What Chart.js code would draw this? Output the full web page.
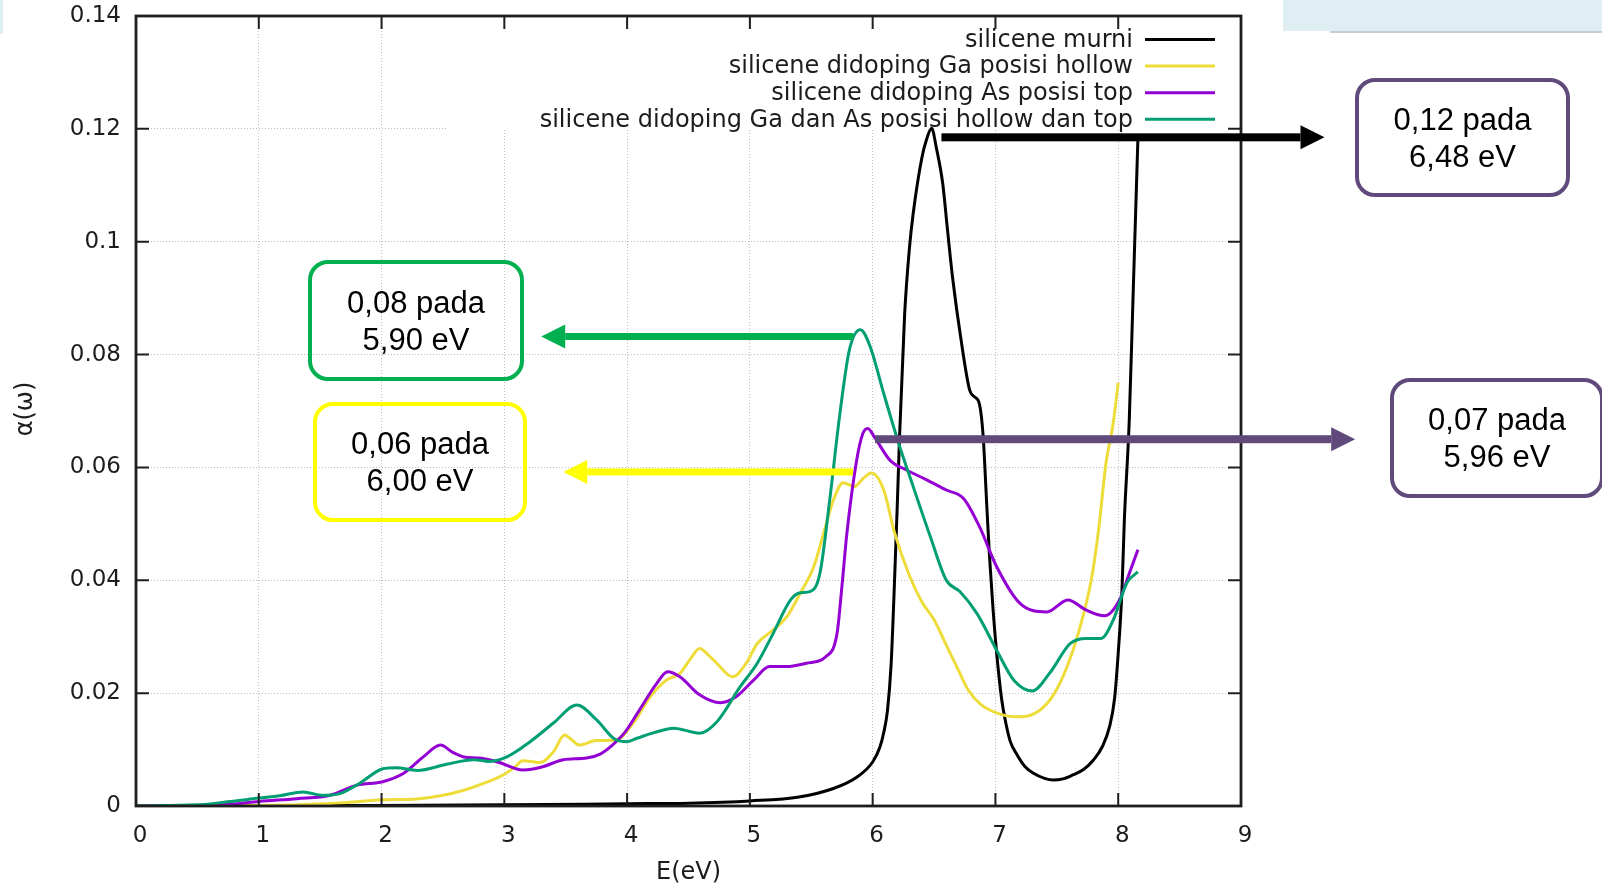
<!DOCTYPE html>
<html lang="id">
<head>
<meta charset="utf-8">
<title>Koefisien absorpsi silicene</title>
<script src="https://cdn.jsdelivr.net/npm/chart.js@4.4.1/dist/chart.umd.min.js"></script>
<style>
  html, body { margin: 0; padding: 0; background: #fff; }
  #wrap { position: relative; width: 1602px; height: 885px; overflow: hidden; }
  #absorpsiChart { position: absolute; left: 0; top: 0; }
  .box {
    position: absolute; box-sizing: border-box; border: 4px solid; border-radius: 20px;
    display: flex; align-items: center; justify-content: center; text-align: center;
    font-family: "Liberation Sans", Arial, sans-serif; font-size: 31px; line-height: 37px; color: #000;
  }
  .strip { position: absolute; background: #deeef3; }
</style>
</head>
<body>
<div id="wrap">
  <canvas id="absorpsiChart" width="1602" height="885"></canvas>
  <div class="strip" style="left:1283px;top:0;width:319px;height:31px"></div>
  <div style="position:absolute;left:1330px;top:31px;width:272px;height:2px;background:#c3ccd0"></div>
  <div class="strip" style="left:0;top:0;width:3px;height:34px"></div>
  <div class="box" style="left:1355px;top:78px;width:215px;height:119px;border-color:#604a7b">0,12 pada<br>6,48 eV</div>
  <div class="box" style="left:308px;top:260px;width:216px;height:121px;border-color:#00b050">0,08 pada<br>5,90 eV</div>
  <div class="box" style="left:313px;top:402px;width:214px;height:120px;border-color:#ffff00">0,06 pada<br>6,00 eV</div>
  <div class="box" style="left:1390px;top:378px;width:214px;height:120px;border-color:#604a7b">0,07 pada<br>5,96 eV</div>
</div>
<script>
// Koefisien absorpsi α(ω) terhadap energi foton E (eV), dibaca dari grafik asli

// silicene murni
const energiMurni = [0, 1, 2, 3, 4, 4.5, 5.0, 5.4, 5.68, 5.87, 6.0, 6.06, 6.09, 6.12, 6.15, 6.18, 6.2, 6.22, 6.26, 6.3,
  6.33, 6.4, 6.44, 6.48, 6.52, 6.57, 6.61, 6.65, 6.72, 6.79, 6.83, 6.87, 6.9, 6.93, 6.95, 6.98, 7.01, 7.05, 7.08, 7.12,
  7.17, 7.24, 7.31, 7.4, 7.47, 7.55, 7.63, 7.72, 7.8, 7.87, 7.93, 7.97, 8.0, 8.03, 8.05, 8.09, 8.12, 8.16]
const alphaMurni = [0, 0.0001, 0.0001, 0.0002, 0.0004, 0.0005, 0.0009, 0.0016, 0.0031, 0.0051, 0.0078, 0.0105, 0.013, 0.0168, 0.025, 0.041, 0.053, 0.066, 0.087, 0.099,
  0.105, 0.1148, 0.1182, 0.1201, 0.1165, 0.1104, 0.102, 0.0938, 0.0826, 0.0737, 0.0725, 0.0712, 0.0655, 0.053, 0.0448, 0.035, 0.0271, 0.019, 0.0152, 0.0115,
  0.0093, 0.007, 0.0058, 0.0049, 0.0046, 0.0048, 0.0055, 0.0065, 0.0082, 0.0105, 0.0141, 0.019, 0.0271, 0.038, 0.0507, 0.0684, 0.0897, 0.118]

// didoping Ga posisi hollow
const energiGa = [0, 0.5, 1.0, 1.31, 1.72, 2.0, 2.26, 2.48, 2.67, 2.83, 2.99, 3.08, 3.15, 3.22, 3.29, 3.4, 3.49, 3.55, 3.61, 3.75,
  3.91, 4.05, 4.19, 4.32, 4.43, 4.52, 4.59, 4.66, 4.73, 4.86, 4.97, 5.06, 5.19, 5.3, 5.41, 5.52, 5.6, 5.68, 5.76, 5.85,
  5.92, 5.99, 6.09, 6.18, 6.3, 6.4, 6.5, 6.6, 6.7, 6.78, 6.88, 7.05, 7.2, 7.35, 7.47, 7.58, 7.68, 7.78, 7.84, 7.9, 7.96, 8.0]
const alphaGa = [0, 0, 0.0001, 0.0002, 0.0006, 0.0011, 0.0012, 0.0018, 0.0028, 0.004, 0.0055, 0.0068, 0.008, 0.0079, 0.0077, 0.0096, 0.0126, 0.0117, 0.0108, 0.0116,
  0.0117, 0.0147, 0.0194, 0.0223, 0.0235, 0.0262, 0.0279, 0.0268, 0.0253, 0.0229, 0.0253, 0.0288, 0.0312, 0.0335, 0.0377, 0.0424, 0.0483, 0.0542, 0.0573, 0.0566,
  0.058, 0.059, 0.056, 0.0483, 0.0408, 0.0362, 0.033, 0.0285, 0.024, 0.0205, 0.018, 0.0162, 0.0158, 0.0168, 0.0196, 0.0245, 0.031, 0.04, 0.0489, 0.0607, 0.068, 0.075]

// didoping As posisi top
const energiAs = [0, 0.5, 0.77, 1.0, 1.31, 1.58, 1.8, 2.01, 2.18, 2.34, 2.48, 2.58, 2.67, 2.8, 2.96, 3.15, 3.22, 3.32, 3.48, 3.67,
  3.78, 3.88, 3.98, 4.1, 4.24, 4.33, 4.43, 4.59, 4.76, 4.89, 5.03, 5.16, 5.3, 5.46, 5.62, 5.71, 5.75, 5.79, 5.87, 5.92,
  5.96, 6.02, 6.14, 6.28, 6.44, 6.6, 6.74, 6.87, 7.01, 7.2, 7.42, 7.59, 7.74, 7.89, 8.01, 8.09, 8.16]
const alphaAs = [0, 0.0001, 0.0003, 0.0008, 0.0013, 0.0019, 0.0037, 0.0043, 0.0058, 0.0087, 0.0108, 0.0095, 0.0087, 0.0085, 0.0077, 0.0064, 0.0065, 0.007, 0.0082, 0.0085,
  0.0092, 0.0108, 0.013, 0.017, 0.0217, 0.0238, 0.0229, 0.0197, 0.0183, 0.0194, 0.0223, 0.0247, 0.0247, 0.0253, 0.0265, 0.0306, 0.039, 0.0483, 0.0613, 0.066,
  0.0669, 0.0652, 0.0613, 0.0595, 0.0578, 0.056, 0.0545, 0.0495, 0.0424, 0.0359, 0.0344, 0.0365, 0.0347, 0.0337, 0.0365, 0.0412, 0.0454]

// didoping Ga dan As posisi hollow dan top
const energiGaAs = [0, 0.49, 0.77, 1.0, 1.17, 1.36, 1.52, 1.66, 1.82, 2.01, 2.12, 2.29, 2.53, 2.75, 2.88, 3.02, 3.21, 3.4, 3.59, 3.75,
  3.91, 4.0, 4.08, 4.22, 4.38, 4.59, 4.73, 4.92, 5.06, 5.19, 5.33, 5.41, 5.49, 5.57, 5.65, 5.73, 5.81, 5.9, 5.98, 6.09,
  6.22, 6.33, 6.47, 6.6, 6.71, 6.85, 7.01, 7.15, 7.3, 7.44, 7.61, 7.74, 7.86, 7.96, 8.07, 8.16]
const alphaGaAs = [0, 0.0002, 0.0008, 0.0014, 0.0018, 0.0025, 0.0019, 0.0022, 0.004, 0.0066, 0.0068, 0.0063, 0.0074, 0.0082, 0.0079, 0.0087, 0.0114, 0.0147, 0.0179, 0.0153,
  0.0117, 0.0114, 0.012, 0.013, 0.0138, 0.0129, 0.0149, 0.0211, 0.0253, 0.0306, 0.0365, 0.0378, 0.038, 0.0412, 0.0542, 0.069, 0.0808, 0.0844, 0.0814, 0.0731,
  0.0637, 0.0566, 0.0477, 0.04, 0.038, 0.0341, 0.0276, 0.0223, 0.0204, 0.0235, 0.0288, 0.0297, 0.0297, 0.033, 0.0395, 0.0415]

const labelSeri = [
  'silicene murni',
  'silicene didoping Ga posisi hollow',
  'silicene didoping As posisi top',
  'silicene didoping Ga dan As posisi hollow dan top'
]
const tickX = ['0', '1', '2', '3', '4', '5', '6', '7', '8', '9']
const tickY = ['0', '0.02', '0.04', '0.06', '0.08', '0.1', '0.12', '0.14']

// panah anotasi dalam satuan sumbu: x awal, x ujung, y
const panahMurni = [6.56, 9.68, 0.1185]
const panahGaAs = [5.84, 3.30, 0.0832]
const panahGa = [5.84, 3.48, 0.0592]
const panahAs = [6.02, 9.93, 0.0650]

const warnaSeri = ['#000000', '#eedc3a', '#9400d3', '#009e73']
const FONT = "'DejaVu Sans', sans-serif"

function titik(xs, ys) {
  return xs.map((x, i) => ({ x: x, y: ys[i] }))
}

function seri(idx, xs, ys) {
  return {
    label: labelSeri[idx],
    data: titik(xs, ys),
    borderColor: warnaSeri[idx],
    borderWidth: 3,
    pointRadius: 0,
    showLine: true,
    fill: false,
    cubicInterpolationMode: 'monotone',
    order: 4 - idx   // seri terakhir digambar paling atas, seperti gnuplot
  }
}

// bingkai, tick ke dalam, legenda, judul sumbu dan panah
const dekorasi = {
  id: 'dekorasi',
  beforeDatasetsDraw(chart) {
    const { ctx, chartArea } = chart
    // kotak legenda menutupi grid
    ctx.save()
    ctx.fillStyle = '#fff'
    ctx.fillRect(448, chartArea.top + 1, chartArea.right - 449, 113)
    ctx.restore()
  },
  afterDatasetsDraw(chart) {
    const { ctx, chartArea: a, scales } = chart
    const sx = scales.x, sy = scales.y
    ctx.save()
    ctx.strokeStyle = '#1e1e1e'
    ctx.lineWidth = 2.8
    ctx.strokeRect(a.left, a.top, a.right - a.left, a.bottom - a.top)
    ctx.lineWidth = 2
    ctx.beginPath()
    sx.ticks.forEach(t => {
      const px = sx.getPixelForValue(t.value)
      ctx.moveTo(px, a.bottom); ctx.lineTo(px, a.bottom - 13)
      ctx.moveTo(px, a.top); ctx.lineTo(px, a.top + 13)
    })
    sy.ticks.forEach(t => {
      const py = sy.getPixelForValue(t.value)
      ctx.moveTo(a.left, py); ctx.lineTo(a.left + 13, py)
      ctx.moveTo(a.right, py); ctx.lineTo(a.right - 13, py)
    })
    ctx.stroke()

    // legenda gaya gnuplot: teks rata kanan, contoh garis di kanan
    ctx.font = '24px ' + FONT
    ctx.textAlign = 'right'
    ctx.textBaseline = 'middle'
    chart.data.datasets.forEach((ds, i) => {
      const y = 40.5 + i * 26.6
      ctx.fillStyle = '#1c1c1c'
      ctx.fillText(ds.label, 1133, y)
      ctx.strokeStyle = ds.borderColor
      ctx.lineWidth = 3
      ctx.beginPath()
      ctx.moveTo(1145, y - 1); ctx.lineTo(1215, y - 1)
      ctx.stroke()
    })

    // judul sumbu
    ctx.fillStyle = '#1c1c1c'
    ctx.textAlign = 'center'
    ctx.fillText('E(eV)', (a.left + a.right) / 2, 873)
    ctx.translate(26, 409)
    ctx.rotate(-Math.PI / 2)
    ctx.fillText('α(ω)', 0, 0)
    ctx.restore()

    // panah anotasi
    const panah = (p, warna, tebal) => {
      const x0 = sx.getPixelForValue(p[0]), x1 = sx.getPixelForValue(p[1]), y = sy.getPixelForValue(p[2])
      const arah = Math.sign(x1 - x0), kepala = 24
      ctx.save()
      ctx.fillStyle = warna
      ctx.fillRect(Math.min(x0, x1 - arah * kepala), y - tebal / 2, Math.abs(x1 - arah * kepala - x0), tebal)
      ctx.beginPath()
      ctx.moveTo(x1, y)
      ctx.lineTo(x1 - arah * kepala, y - 12)
      ctx.lineTo(x1 - arah * kepala, y + 12)
      ctx.closePath()
      ctx.fill()
      ctx.restore()
    }
    panah(panahMurni, '#000000', 8)
    panah(panahGaAs, '#00b050', 7)
    panah(panahGa, '#ffff00', 7)
    panah(panahAs, '#604a7b', 8)
  }
}

new Chart(document.getElementById('absorpsiChart'), {
  type: 'scatter',
  data: {
    datasets: [
      seri(0, energiMurni, alphaMurni),
      seri(1, energiGa, alphaGa),
      seri(2, energiAs, alphaAs),
      seri(3, energiGaAs, alphaGaAs)
    ]
  },
  options: {
    responsive: false,
    animation: false,
    events: [],
    layout: { padding: { left: 0, top: 16, right: 361, bottom: 0 } },
    plugins: { legend: { display: false }, tooltip: { enabled: false } },
    scales: {
      x: {
        type: 'linear', min: 0, max: 9,
        afterFit: s => { s.height = 79; s.paddingLeft = 0; s.paddingRight = 0 },
        grid: { color: '#bdbdbd', lineWidth: 1, drawTicks: false },
        border: { display: false, dash: [1, 2] },
        ticks: {
          stepSize: 1, padding: 16, labelOffset: 4, color: '#1c1c1c',
          font: { family: FONT, size: 23 },
          callback: (v, i) => tickX[i]
        }
      },
      y: {
        type: 'linear', min: 0, max: 0.14,
        afterFit: s => { s.width = 136; s.paddingTop = 0; s.paddingBottom = 0 },
        grid: { color: '#bdbdbd', lineWidth: 1, drawTicks: false },
        border: { display: false, dash: [1, 2] },
        ticks: {
          stepSize: 0.02, padding: 15, color: '#1c1c1c',
          font: { family: FONT, size: 23 },
          callback: (v, i) => tickY[i]
        }
      }
    }
  },
  plugins: [dekorasi]
})
</script>
</body>
</html>
